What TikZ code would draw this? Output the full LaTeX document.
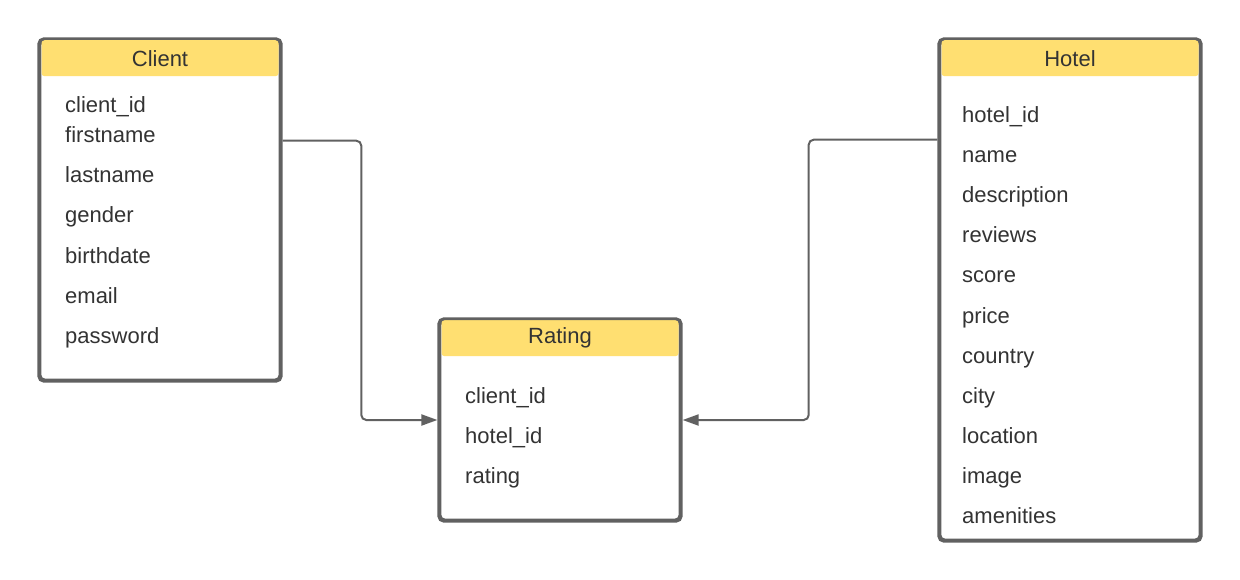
\documentclass[tikz,border=0pt]{standalone}
\usepackage{fontspec}
\setmainfont{Liberation Sans}
\usepackage{tikz}
\usetikzlibrary{arrows.meta,positioning,calc}

\definecolor{hdryellow}{HTML}{FFDF71}
\definecolor{edgegray}{HTML}{616161}
\definecolor{txtgray}{HTML}{333333}

\begin{document}
\begin{tikzpicture}[
        x=1pt, y=-1pt,
        tblsty/.style={
            draw=edgegray, line width=2.6pt,
            rectangle, rounded corners=5pt,
            fill=white, inner sep=0pt,
        },
        hdrsty/.style={
            rectangle, rounded corners=3pt,
            fill=hdryellow, anchor=north,
            minimum height=36pt,
            text=txtgray, font=\fontsize{22pt}{26pt}\selectfont,
        },
        fieldsty/.style={
            anchor=west, inner sep=0pt,
            text height=20pt, text depth=4pt,
            text=txtgray, font=\fontsize{22pt}{26pt}\selectfont,
        },
        linksty/.style={
            draw=edgegray, line width=2pt, rounded corners=5pt,
            -{Triangle[length=16pt,width=11pt]},
        },
    ]
    \useasboundingbox (0,0) rectangle (1240,580);

    % tables
    \node[tblsty, minimum width=240pt, minimum height=340pt] at (160,210) (client) {};
    \node[tblsty, minimum width=260pt, minimum height=500pt] at (1070,290) (hotel) {};
    \node[tblsty, minimum width=240pt, minimum height=200pt] at (560,420) (rating) {};

    % headers
    \node[hdrsty, minimum width=237pt] at ($(client.north)+(0,1.3)$) (clienthdr) {Client};
    \node[hdrsty, minimum width=257pt] at ($(hotel.north)+(0,1.3)$) (hotelhdr) {Hotel};
    \node[hdrsty, minimum width=237pt] at ($(rating.north)+(0,1.3)$) (ratinghdr) {Rating};
    \draw[edgegray, line width=2.6pt, rounded corners=5pt] (client.north west) rectangle (client.south east);
    \draw[edgegray, line width=2.6pt, rounded corners=5pt] (hotel.north west) rectangle (hotel.south east);
    \draw[edgegray, line width=2.6pt, rounded corners=5pt] (rating.north west) rectangle (rating.south east);

    % client fields
    \node[fieldsty] at (65,105) (c1) {client\_id};
    \node[fieldsty] at (65,135) (c2) {firstname};
    \node[fieldsty] at (65,175) (c3) {lastname};
    \node[fieldsty] at (65,215) (c4) {gender};
    \node[fieldsty] at (65,255) (c5) {birthdate};
    \node[fieldsty] at (65,295) (c6) {email};
    \node[fieldsty] at (65,335) (c7) {password};

    % hotel fields
    \node[fieldsty] at (962,115) (h1) {hotel\_id};
    \node[fieldsty] at (962,155) (h2) {name};
    \node[fieldsty] at (962,195) (h3) {description};
    \node[fieldsty] at (962,235) (h4) {reviews};
    \node[fieldsty] at (962,275) (h5) {score};
    \node[fieldsty] at (962,315) (h6) {price};
    \node[fieldsty] at (962,355) (h7) {country};
    \node[fieldsty] at (962,395) (h8) {city};
    \node[fieldsty] at (962,435) (h9) {location};
    \node[fieldsty] at (962,475) (h10) {image};
    \node[fieldsty] at (962,515) (h11) {amenities};

    % rating fields
    \node[fieldsty] at (465,395) (r1) {client\_id};
    \node[fieldsty] at (465,435) (r2) {hotel\_id};
    \node[fieldsty] at (465,475) (r3) {rating};

    % relations
    \draw[linksty] ($(client.north east)+(1.3,102)$) -- ++(78.7,0) |- ($(rating.west)+(-1.3,0)$);
    \draw[linksty] ($(hotel.north west)+(-1.3,101)$) -- ++(-128.7,0) |- ($(rating.east)+(1.3,0)$);

\end{tikzpicture}
\end{document}
